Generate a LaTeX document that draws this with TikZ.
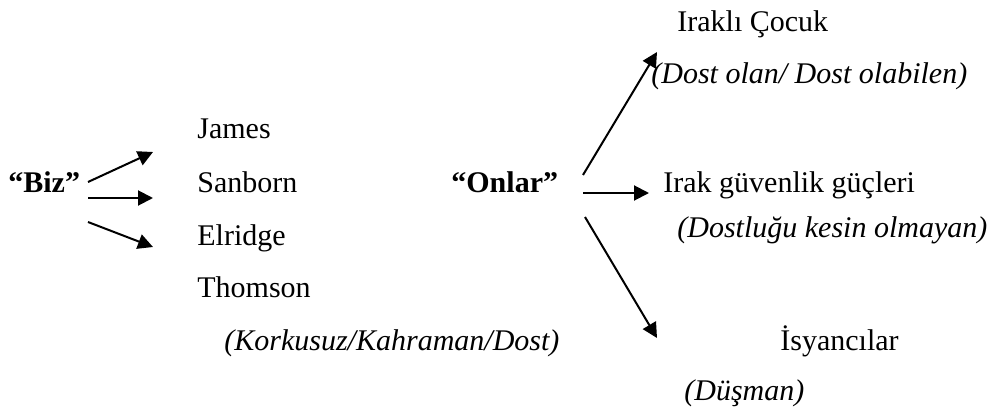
\documentclass[tikz,border=0pt]{standalone}
\usepackage{fontspec}
\setmainfont{Liberation Serif}
\usetikzlibrary{arrows.meta}
\begin{document}
\begin{tikzpicture}[x=0.5pt,y=-0.5pt,
  lbl/.style={anchor=base west,inner sep=0pt,font=\fontsize{15}{18}\selectfont},
  ilbl/.style={lbl,font=\fontsize{15}{18}\selectfont\itshape},
  blbl/.style={lbl,font=\fontsize{15}{18}\selectfont\bfseries},
  arr/.style={line width=1pt,-{Triangle[length=7.5pt,width=7.5pt]}}]
\useasboundingbox (0,0) rectangle (996,412);
% left group
\node[blbl] (biz) at (8,192) {“Biz”};
\node[lbl] (james) at (197,138) {James};
\node[lbl] (sanborn) at (197,192) {Sanborn};
\node[lbl] (elridge) at (197,245) {Elridge};
\node[lbl] (thomson) at (197,297) {Thomson};
\node[ilbl] (kork) at (224,350) {(Korkusuz/Kahraman/Dost)};
\coordinate (b1s) at (88,182); \coordinate (b1e) at (153,152);
\coordinate (b2s) at (88,198); \coordinate (b2e) at (153,198);
\coordinate (b3s) at (88,222); \coordinate (b3e) at (153,247);
\draw[arr] (b1s) -- (b1e);
\draw[arr] (b2s) -- (b2e);
\draw[arr] (b3s) -- (b3e);
% right group
\node[blbl] (onlar) at (451,192) {“Onlar”};
\node[lbl] (cocuk) at (677,32) {Iraklı Çocuk};
\node[ilbl] (dost) at (651,83) {(Dost olan/ Dost olabilen)};
\node[lbl] (guvenlik) at (663,192) {Irak güvenlik güçleri};
\node[ilbl] (dostluk) at (677,237) {(Dostluğu kesin olmayan)};
\node[lbl] (isyan) at (780,350) {İsyancılar};
\node[ilbl] (dusman) at (684,400) {(Düşman)};
\coordinate (o1s) at (583,175); \coordinate (o1e) at (657,52);
\coordinate (o2s) at (583,193); \coordinate (o2e) at (649,193);
\coordinate (o3s) at (585,217); \coordinate (o3e) at (657,338);
\draw[arr] (o1s) -- (o1e);
\draw[arr] (o2s) -- (o2e);
\draw[arr] (o3s) -- (o3e);
\end{tikzpicture}
\end{document}
